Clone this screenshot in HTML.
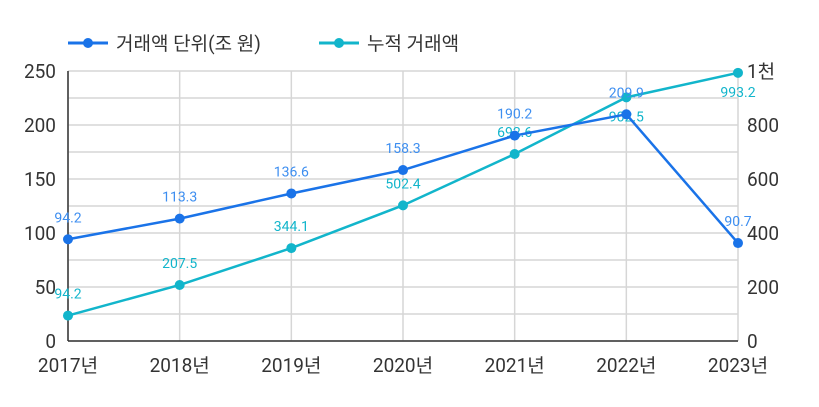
<!DOCTYPE html>
<html><head><meta charset="utf-8"><style>
body{margin:0;background:#fff;}
svg{display:block;font-family:"Roboto","Liberation Sans","Noto Sans CJK KR",sans-serif;}
</style></head><body>
<svg id="chart" width="819" height="407">
<g>
 <g>
  <line x1="68" y1="43" x2="108" y2="43" stroke="#1a73e8" stroke-width="3"/>
  <circle cx="88" cy="43" r="5" fill="#1a73e8"/>
  <text x="116" y="50" font-size="19" fill="#333">거래액 단위(조 원)</text>
 </g>
 <g>
  <line x1="319" y1="43" x2="359" y2="43" stroke="#12b5cb" stroke-width="3"/>
  <circle cx="339" cy="43" r="5" fill="#12b5cb"/>
  <text x="367" y="50" font-size="19" fill="#333">누적 거래액</text>
 </g>
</g>
<g id="grid"></g>
<g id="axes"></g>
<g id="series"></g>
</svg>
<script>
const categories=["2017년","2018년","2019년","2020년","2021년","2022년","2023년"];
const volume=[94.2,113.3,136.6,158.3,190.2,209.9,90.7];
const cumulative=[94.2,207.5,344.1,502.4,692.6,902.5,993.2];
const leftTicks=[0,50,100,150,200,250];
const rightTicks=[0,200,400,600,800,1000];
const rightTickLabels=["0","200","400","600","800","1천"];
const L=68,R=738,T=71,B=341;
const NS="http://www.w3.org/2000/svg";
const xS=i=>L+i*(R-L)/(categories.length-1);
const yL=v=>B-v/250*(B-T);
const yR=v=>B-v/1000*(B-T);
function mk(tag,attrs,parent,text){const e=document.createElementNS(NS,tag);for(const k in attrs)e.setAttribute(k,attrs[k]);if(text!==undefined)e.textContent=text;parent.appendChild(e);return e;}
const grid=document.getElementById('grid'),axes=document.getElementById('axes'),series=document.getElementById('series');
for(let v=0;v<=250;v+=25){const l=mk('line',{x1:L,x2:R,y1:yL(v),y2:yL(v),stroke:'#d6d6d6','stroke-width':1.5},grid);

}
categories.forEach((c,i)=>{const l=mk('line',{x1:xS(i),x2:xS(i),y1:T,y2:B,stroke:'#d6d6d6','stroke-width':1.5},grid);


const t=mk('text',{x:xS(i),y:B+31,'text-anchor':'middle','font-size':19,fill:'#333'},axes,c);

});
leftTicks.forEach(v=>{const t=mk('text',{x:56,y:yL(v)+7,'text-anchor':'end','font-size':19,fill:'#333'},axes,String(v));

});
rightTicks.forEach((v,i)=>{const t=mk('text',{x:747,y:yR(v)+7,'font-size':19,fill:'#333'},axes,rightTickLabels[i]);

});
const ax=mk('line',{x1:L,x2:L,y1:T,y2:B,stroke:'#333','stroke-width':1.5},axes);


const bx=mk('line',{x1:L,x2:R,y1:B,y2:B,stroke:'#333','stroke-width':1.5},axes);


function draw(vals,ys,color,lblColor,name,below){
 const pl=mk('polyline',{points:vals.map((v,i)=>xS(i)+','+ys(v)).join(' '),fill:'none',stroke:color,'stroke-width':2.5},series);
 
 
 vals.forEach((v,i)=>{const c=mk('circle',{cx:xS(i),cy:ys(v),r:5,fill:color},series);
 
 
 const dy=below(i)?24:-17;
 const t=mk('text',{x:xS(i),y:ys(v)+dy+(dy>0?0:0),'text-anchor':'middle','font-size':14,fill:lblColor},series,v.toFixed(1));
 
 });
}
draw(cumulative,yR,'#12b5cb','#12b5cb','cumulative',i=>i>=5);
draw(volume,yL,'#1a73e8','#3d8ef0','volume',i=>false);
</script>
</body></html>
